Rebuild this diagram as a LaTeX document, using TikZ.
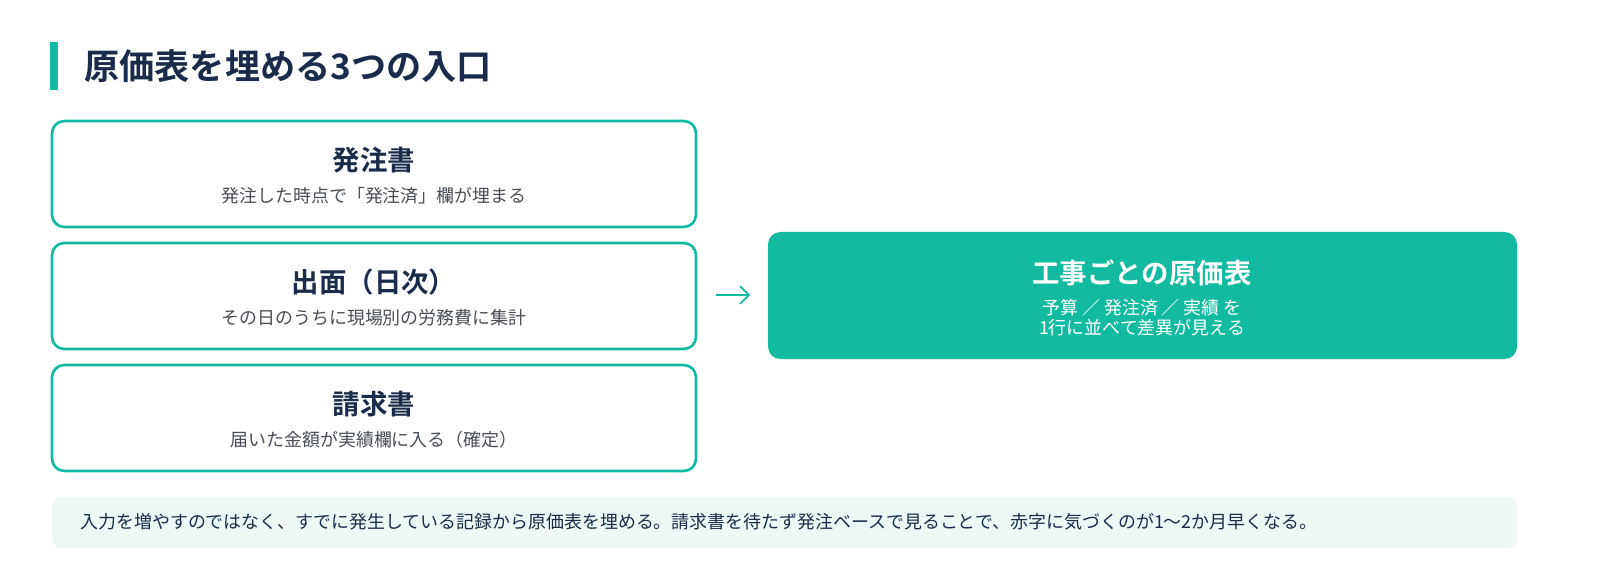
\documentclass[tikz,border=0pt]{standalone}
\usepackage{fontspec}
\usetikzlibrary{arrows.meta}
\newfontfamily\cjk{Noto Sans CJK JP}
\newfontfamily\cjkb{Noto Sans CJK JP Bold}
\definecolor{teal1}{HTML}{12BAA2}
\definecolor{navy}{HTML}{1B2B4B}
\definecolor{grey1}{HTML}{4A4F57}
\definecolor{mint}{HTML}{EEF9F6}
\tikzset{
  srcbox/.style={draw=teal1,line width=0.75pt,rounded corners=3.5pt,fill=white},
  head/.style={font=\cjkb\fontsize{7.8}{9}\selectfont,text=navy},
  sub/.style={font=\cjk\fontsize{5.1}{6}\selectfont,text=grey1}
}
\begin{document}
\begin{tikzpicture}[x=0.01cm,y=-0.01cm]
  \useasboundingbox (0,0) rectangle (1600,582);
  % title
  \fill[teal1] (50,42) rectangle (58,90);
  \node[anchor=west,font=\cjkb\fontsize{10}{11}\selectfont,text=navy] (title) at (72,66) {原価表を埋める3つの入口};
  % three sources
  \draw[srcbox] (52,121) rectangle (696,227);
  \node[head] (h1) at (374,160) {発注書};
  \node[sub] (s1) at (374,196) {発注した時点で「発注済」欄が埋まる};
  \draw[srcbox] (52,243) rectangle (696,349);
  \node[head] (h2) at (374,282) {出面（日次）};
  \node[sub] (s2) at (374,318) {その日のうちに現場別の労務費に集計};
  \draw[srcbox] (52,365) rectangle (696,471);
  \node[head] (h3) at (374,404) {請求書};
  \node[sub] (s3) at (374,440) {届いた金額が実績欄に入る（確定）};
  % result
  \fill[teal1,rounded corners=3.5pt] (768,232) rectangle (1517,359);
  \node[head,text=white] (res) at (1142,273) {工事ごとの原価表};
  \node[sub,text=white,align=center,font=\cjk\fontsize{5.1}{5.6}\selectfont] (ressub) at (1142,318) {予算 ／ 発注済 ／ 実績 を\\1行に並べて差異が見える};
  \coordinate (a1) at (716,295);
  \coordinate (a2) at (750,295);
  \draw[teal1,line width=0.5pt,-{Straight Barb[length=2.5pt,width=5pt]}] (a1) -- (a2);
  % note
  \fill[mint,rounded corners=2.5pt] (52,497) rectangle (1517,548);
  \node[anchor=west,font=\cjk\fontsize{5.1}{6}\selectfont,text=navy] (note) at (68,522) {入力を増やすのではなく、すでに発生している記録から原価表を埋める。請求書を待たず発注ベースで見ることで、赤字に気づくのが1〜2か月早くなる。};
\end{tikzpicture}
\end{document}
